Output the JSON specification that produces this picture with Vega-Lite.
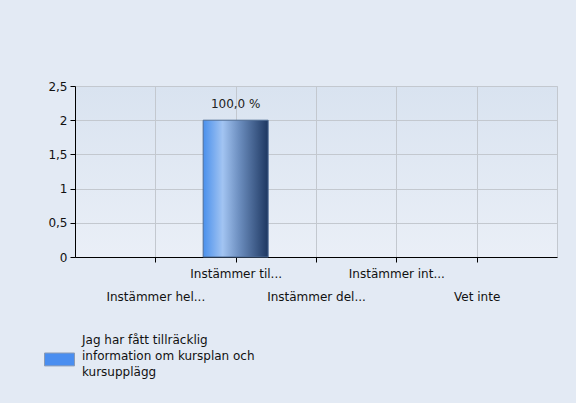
{
  "$schema": "https://vega.github.io/schema/vega-lite/v6.json",
  "width": 482,
  "height": 171,
  "autosize": "none",
  "padding": {"left": 75, "top": 86, "right": 19, "bottom": 146},
  "background": "#e3eaf4",
  "config": {
    "font": "DejaVu Sans",
    "view": {
      "stroke": "#c3c8cf",
      "strokeWidth": 1,
      "fill": {"gradient": "linear", "x1": 0, "y1": 0, "x2": 0, "y2": 1, "stops": [{"offset": 0, "color": "#d9e3f0"}, {"offset": 1, "color": "#eaeff7"}]}
    },
    "axis": {
      "labelFont": "DejaVu Sans",
      "labelFontSize": 12,
      "labelColor": "#111111",
      "domainColor": "#000000",
      "tickColor": "#000000",
      "gridColor": "#c3c8cf",
      "gridOpacity": 1,
      "title": null
    }
  },
  "data": {
    "values": [
      {"kategori": "Instämmer hel...", "antal": 0, "procent": "0,0 %", "serie": "Jag har fått tillräcklig information om kursplan och kursupplägg"},
      {"kategori": "Instämmer til...", "antal": 2, "procent": "100,0 %", "serie": "Jag har fått tillräcklig information om kursplan och kursupplägg"},
      {"kategori": "Instämmer del...", "antal": 0, "procent": "0,0 %", "serie": "Jag har fått tillräcklig information om kursplan och kursupplägg"},
      {"kategori": "Instämmer int...", "antal": 0, "procent": "0,0 %", "serie": "Jag har fått tillräcklig information om kursplan och kursupplägg"},
      {"kategori": "Vet inte", "antal": 0, "procent": "0,0 %", "serie": "Jag har fått tillräcklig information om kursplan och kursupplägg"}
    ]
  },
  "encoding": {
    "x": {
      "field": "kategori",
      "type": "nominal",
      "sort": null,
      "scale": {"type": "point", "padding": 1, "domain": ["Instämmer hel...", "Instämmer til...", "Instämmer del...", "Instämmer int...", "Vet inte"]},
      "axis": {
        "grid": true,
        "labelAngle": 0,
        "tickSize": 5,
        "labelPadding": 6,
        "labelOverlap": false,
        "labelLineHeight": 23,
        "labelExpr": "indexof(['Instämmer hel...','Instämmer del...','Vet inte'], datum.label) >= 0 ? ['', datum.label] : datum.label"
      }
    },
    "y": {
      "field": "antal",
      "type": "quantitative",
      "scale": {"domain": [0, 2.5], "nice": false},
      "axis": {
        "values": [0, 0.5, 1, 1.5, 2, 2.5],
        "format": "~g",
        "labelExpr": "replace(datum.label, '.', ',')",
        "tickSize": 5,
        "labelPadding": 3,
        "grid": true
      }
    }
  },
  "layer": [
    {
      "transform": [{"filter": "datum.antal > 0"}],
      "mark": {
        "type": "bar",
        "size": 65,
        "stroke": "#4f6d96",
        "strokeWidth": 1,
        "fill": {"gradient": "linear", "x1": 0, "y1": 0, "x2": 1, "y2": 0, "stops": [
          {"offset": 0, "color": "#4a90ec"},
          {"offset": 0.3, "color": "#a2c4f2"},
          {"offset": 0.55, "color": "#6d8fc0"},
          {"offset": 1, "color": "#1d3761"}
        ]}
      }
    },
    {
      "transform": [{"filter": "datum.antal > 0"}],
      "mark": {"type": "text", "baseline": "bottom", "dy": -9, "fontSize": 12, "color": "#222222", "font": "DejaVu Sans"},
      "encoding": {"text": {"field": "procent"}}
    },
    {
      "mark": {"type": "square", "opacity": 0},
      "encoding": {
        "fill": {
          "field": "serie",
          "type": "nominal",
          "scale": {"range": ["#4a8ef0"]},
          "legend": {
            "title": null,
            "orient": "none",
            "legendX": -31,
            "legendY": 238,
            "padding": 0,
            "symbolType": "M-1,0.9L1,0.9L1,1.76L-1,1.76Z",
            "symbolSize": 900,
            "symbolOpacity": 1,
            "symbolFillColor": "#4a8ef0",
            "symbolStrokeColor": "#8a9bb5",
            "symbolStrokeWidth": 1,
            "labelFont": "DejaVu Sans",
            "labelFontSize": 12,
            "labelColor": "#111111",
            "labelOffset": 7,
            "labelLimit": 400,
            "labelExpr": "['Jag har fått tillräcklig', 'information om kursplan och', 'kursupplägg']",
            "encoding": {"labels": {"lineHeight": {"value": 16}}}
          }
        }
      }
    }
  ]
}
